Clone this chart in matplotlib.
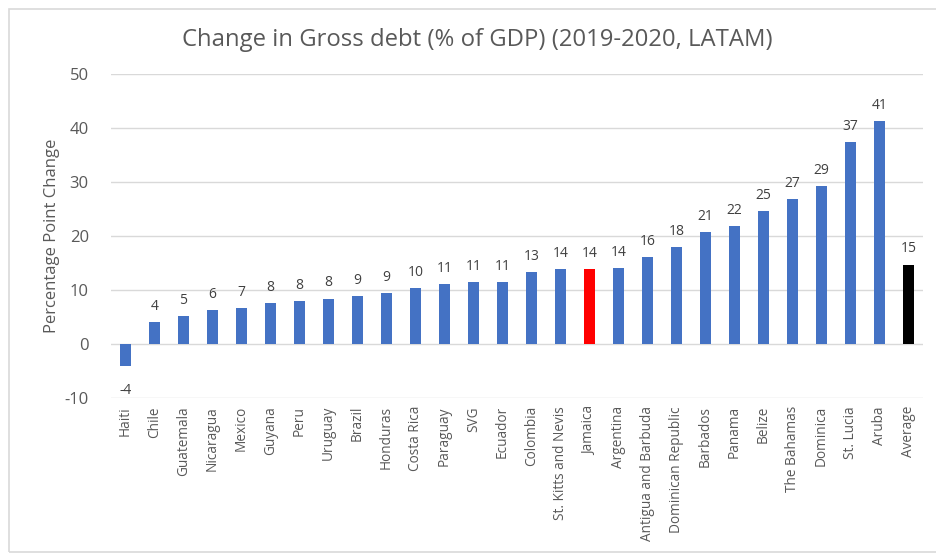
import matplotlib.pyplot as plt
from matplotlib.patches import Rectangle

plt.rcParams['font.family'] = ['Open Sans', 'DejaVu Sans']
plt.rcParams['axes.unicode_minus'] = False

countries = ["Haiti", "Chile", "Guatemala", "Nicaragua", "Mexico", "Guyana", "Peru",
             "Uruguay", "Brazil", "Honduras", "Costa Rica", "Paraguay", "SVG", "Ecuador",
             "Colombia", "St. Kitts and Nevis", "Jamaica", "Argentina", "Antigua and Barbuda",
             "Dominican Republic", "Barbados", "Panama", "Belize", "The Bahamas", "Dominica",
             "St. Lucia", "Aruba", "Average"]
debt_change = [-4.2, 4.0, 5.1, 6.2, 6.7, 7.6, 8.0, 8.4, 8.9, 9.4, 10.4, 11.1, 11.4, 11.4,
               13.3, 13.8, 13.9, 14.1, 16.1, 18.0, 20.8, 21.8, 24.6, 26.8, 29.2, 37.4, 41.3, 14.7]
yticks = [-10, 0, 10, 20, 30, 40, 50]

BLUE = "#4472C4"
TEXT = "#595959"
colors = []
for c in countries:
    if c == "Jamaica":
        colors.append("#FF0000")
    elif c == "Average":
        colors.append("#000000")
    else:
        colors.append(BLUE)

fig = plt.figure(figsize=(9.36, 5.54), dpi=100)
ax = fig.add_axes([111 / 936, 1 - 397.7 / 554, (923 - 111) / 936, (397.7 - 74.3) / 554])

x = range(len(countries))
bars = ax.bar(x, debt_change, width=0.36, color=colors, zorder=3)

# data labels above (or below for negatives) each bar
for b, v in zip(bars, debt_change):
    if v >= 0:
        ax.text(b.get_x() + b.get_width() / 2, v + 1.5, f"{v:.0f}", ha="center", va="bottom",
                fontsize=10, color="#404040")
    else:
        ax.text(b.get_x() + b.get_width() / 2, v - 3.0, f"{v:.0f}", ha="center", va="top",
                fontsize=10, color="#404040")

ax.set_xlim(-0.5, len(countries) - 0.5)
ax.set_ylim(-10, 50)
ax.set_yticks(yticks)
ax.yaxis.grid(True, color="#D9D9D9", linewidth=1, zorder=0)
ax.set_xticks(list(x))
ax.set_xticklabels(countries, rotation=90, fontsize=9.8, color=TEXT)
ax.tick_params(axis="y", labelsize=12, colors=TEXT, length=0, pad=16)
ax.tick_params(axis="x", length=0, pad=6)
for s in ax.spines.values():
    s.set_visible(False)

ax.set_ylabel("Percentage Point Change", fontsize=12, color=TEXT, labelpad=3)
fig.text(477 / 936, 1 - 40 / 554, "Change in Gross debt (% of GDP) (2019-2020, LATAM)",
         ha="center", va="center", fontsize=17.2, color=TEXT)

fig.patches.append(Rectangle((9 / 936, 1 - 552 / 554), 1.0, (552 - 9) / 554,
                             transform=fig.transFigure, fill=False,
                             edgecolor="#D9D9D9", linewidth=1.2))

fig.savefig("out.png", dpi=100)
